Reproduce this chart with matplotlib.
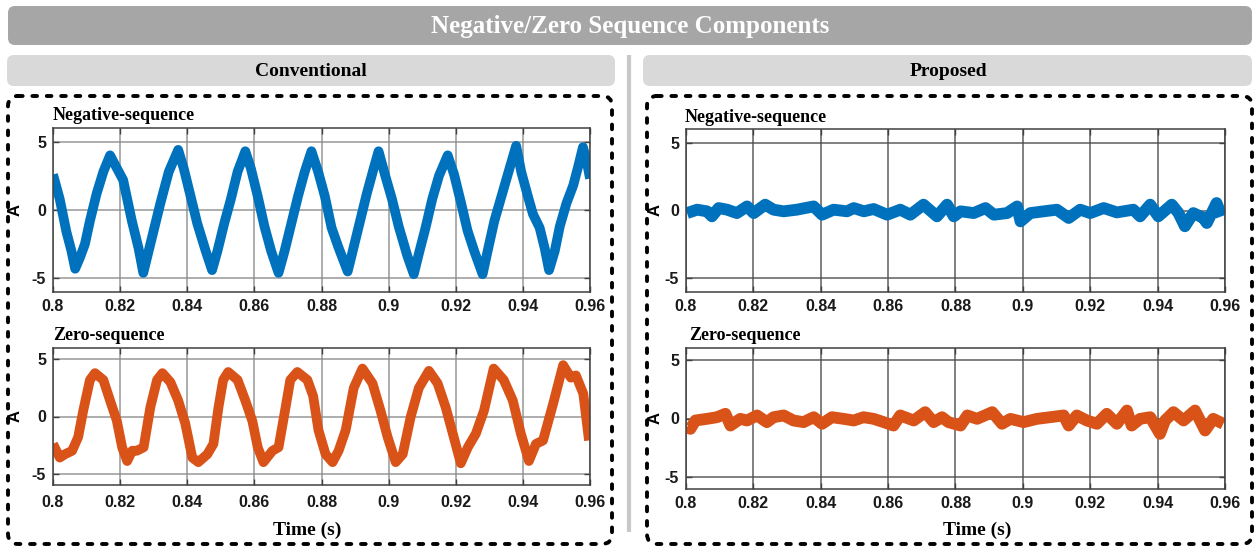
import matplotlib
matplotlib.use("Agg")
import matplotlib.pyplot as plt
from matplotlib.patches import FancyBboxPatch
import numpy as np

plt.rcParams['axes.unicode_minus'] = False

# ---------------- data ----------------
conv_neg_t = [0.8000, 0.8020, 0.8040, 0.8055, 0.8066, 0.8080, 0.8095, 0.8110, 0.8130, 0.8150,
              0.8170, 0.8185, 0.8209, 0.8215, 0.8235, 0.8255, 0.8269, 0.8285, 0.8300, 0.8320,
              0.8345, 0.8373, 0.8390, 0.8410, 0.8430, 0.8455, 0.8474, 0.8490, 0.8510, 0.8530,
              0.8550, 0.8573, 0.8590, 0.8610, 0.8630, 0.8650, 0.8672, 0.8690, 0.8710, 0.8730,
              0.8750, 0.8770, 0.8790, 0.8810, 0.8830, 0.8850, 0.8878, 0.8895, 0.8915, 0.8935,
              0.8955, 0.8970, 0.8990, 0.9010, 0.9030, 0.9055, 0.9075, 0.9090, 0.9110, 0.9130,
              0.9150, 0.9176, 0.9195, 0.9215, 0.9235, 0.9255, 0.9280, 0.9295, 0.9315, 0.9335,
              0.9355, 0.9380, 0.9395, 0.9415, 0.9430, 0.9450, 0.9465, 0.9478, 0.9495, 0.9510,
              0.9530, 0.9550, 0.9565, 0.9579, 0.9590, 0.9600]
conv_neg_v = [2.6, 0.8, -1.6, -3.0, -4.3, -3.5, -2.5, -0.8, 1.2, 2.8,
              4.0, 3.3, 2.2, 1.5, -0.8, -2.8, -4.6, -3.0, -1.5, 0.5,
              2.8, 4.4, 3.0, 1.0, -1.0, -3.0, -4.4, -3.0, -1.0, 0.8,
              2.8, 4.3, 3.0, 1.0, -1.2, -3.0, -4.6, -3.0, -1.0, 1.0,
              2.8, 4.3, 2.8, 1.0, -1.3, -2.7, -4.5, -2.8, -0.8, 1.2,
              3.0, 4.3, 2.5, 0.8, -1.2, -3.3, -4.7, -3.2, -1.3, 0.8,
              2.5, 4.0, 2.6, 0.6, -1.5, -3.0, -4.7, -3.0, -0.8, 0.9,
              2.6, 4.7, 2.8, 1.0, -0.3, -1.3, -2.8, -4.4, -3.0, -1.2,
              0.5, 1.8, 3.2, 4.6, 3.6, 2.3]

conv_zero_t = [0.8000, 0.8020, 0.8036, 0.8057, 0.8075, 0.8090, 0.8110, 0.8125, 0.8150, 0.8170,
               0.8190, 0.8206, 0.8221, 0.8236, 0.8250, 0.8270, 0.8290, 0.8310, 0.8326, 0.8350,
               0.8373, 0.8394, 0.8415, 0.8433, 0.8460, 0.8478, 0.8493, 0.8507, 0.8522, 0.8550,
               0.8573, 0.8594, 0.8610, 0.8627, 0.8654, 0.8672, 0.8693, 0.8707, 0.8728, 0.8758,
               0.8775, 0.8791, 0.8812, 0.8833, 0.8851, 0.8872, 0.8896, 0.8922, 0.8952, 0.8976,
               0.8997, 0.9021, 0.9042, 0.9066, 0.9090, 0.9120, 0.9146, 0.9170, 0.9194, 0.9215,
               0.9236, 0.9260, 0.9284, 0.9313, 0.9343, 0.9370, 0.9394, 0.9418, 0.9439, 0.9460,
               0.9490, 0.9520, 0.9543, 0.9558, 0.9580, 0.9597]
conv_zero_v = [-2.4, -3.6, -3.3, -3.0, -1.8, 0.5, 3.2, 3.8, 3.2, 1.4,
               -0.35, -2.7, -3.9, -3.0, -3.0, -2.7, 0.8, 3.2, 3.8, 3.0,
               1.4, -0.6, -3.6, -4.0, -3.3, -2.4, 0.8, 3.2, 3.9, 3.2,
               1.4, -0.4, -2.7, -4.0, -3.0, -2.7, 0.8, 3.2, 3.9, 3.2,
               1.8, -1.2, -3.3, -4.0, -3.0, -1.2, 2.5, 4.2, 2.9, 0.5,
               -1.8, -4.0, -3.3, 0.0, 2.5, 4.0, 2.9, 0.8, -1.8, -4.1,
               -2.7, -1.5, 0.5, 4.2, 3.2, 1.4, -1.5, -3.9, -2.4, -2.1,
               1.1, 4.5, 3.4, 3.6, 2.0, -2.1]

prop_neg_t = [0.8003, 0.8033, 0.8062, 0.8077, 0.8097, 0.8122, 0.8151, 0.8181, 0.8201, 0.8235,
              0.8260, 0.8290, 0.8329, 0.8379, 0.8404, 0.8438, 0.8478, 0.8498, 0.8528, 0.8557,
              0.8597, 0.8636, 0.8666, 0.8705, 0.8745, 0.8775, 0.8795, 0.8815, 0.8854, 0.8889,
              0.8914, 0.8953, 0.8983, 0.8993, 0.9022, 0.9062, 0.9101, 0.9136, 0.9170, 0.9200,
              0.9240, 0.9279, 0.9328, 0.9348, 0.9378, 0.9402, 0.9442, 0.9462, 0.9481, 0.9506,
              0.9536, 0.9546, 0.9575, 0.9590]
prop_neg_v = [-0.19, 0.06, -0.06, -0.43, 0.18, 0.06, -0.19, 0.30, -0.19, 0.43,
              0.06, -0.06, 0.06, 0.30, -0.31, 0.06, -0.06, 0.18, -0.06, 0.11,
              -0.31, 0.06, -0.31, 0.43, -0.43, 0.43, -0.43, -0.06, -0.19, 0.18,
              -0.31, -0.19, 0.30, -0.80, -0.19, -0.06, 0.06, -0.55, 0.06, -0.19,
              0.18, -0.14, 0.06, -0.43, 0.43, -0.43, 0.43, -0.19, -1.16, -0.19,
              -0.55, -0.92, 0.55, -0.43]

prop_zero_t = [0.8003, 0.8013, 0.8028, 0.8062, 0.8092, 0.8117, 0.8132, 0.8161, 0.8181, 0.8211,
               0.8240, 0.8260, 0.8290, 0.8319, 0.8349, 0.8379, 0.8404, 0.8433, 0.8468, 0.8498,
               0.8527, 0.8557, 0.8587, 0.8616, 0.8636, 0.8676, 0.8710, 0.8735, 0.8760, 0.8779,
               0.8815, 0.8835, 0.8864, 0.8909, 0.8938, 0.8963, 0.9002, 0.9042, 0.9081, 0.9121,
               0.9136, 0.9160, 0.9190, 0.9220, 0.9249, 0.9279, 0.9309, 0.9323, 0.9348, 0.9378,
               0.9407, 0.9422, 0.9447, 0.9477, 0.9511, 0.9541, 0.9565, 0.9595]
prop_zero_v = [-0.74, -0.88, -0.17, -0.03, 0.11, 0.40, -0.60, -0.03, -0.17, 0.26,
               -0.31, 0.11, 0.26, -0.17, -0.31, 0.11, -0.45, 0.11, -0.03, -0.17,
               0.11, -0.03, -0.31, -0.60, 0.26, -0.17, 0.54, -0.31, 0.11, -0.31,
               -0.60, 0.26, -0.03, 0.54, -0.45, -0.03, -0.31, -0.03, 0.11, 0.26,
               -0.60, 0.26, -0.17, -0.45, 0.40, -0.45, 0.68, -0.60, -0.03, 0.11,
               -1.31, -0.17, 0.54, -0.17, 0.68, -1.02, -0.03, -0.45]

x_ticks = [0.8, 0.82, 0.84, 0.86, 0.88, 0.9, 0.92, 0.94, 0.96]
x_ticklabels = ['0.8', '0.82', '0.84', '0.86', '0.88', '0.9', '0.92', '0.94', '0.96']
y_ticks = [-5, 0, 5]
y_ticklabels = ['-5', '0', '5']

main_title = 'Negative/Zero Sequence Components'
group_titles = ['Conventional', 'Proposed']
panel_titles = ['Negative-sequence', 'Zero-sequence']

BLUE = '#0072BD'
ORANGE = '#D95319'

# ---------------- layout ----------------
W, H = 1258, 547
fig = plt.figure(figsize=(W / 100, H / 100), dpi=100)

bg = fig.add_axes([0, 0, 1, 1], zorder=0)
bg.set_xlim(0, W)
bg.set_ylim(H, 0)
bg.axis('off')

SERIF = ['Liberation Serif', 'DejaVu Serif']
SANS = ['Liberation Sans', 'DejaVu Sans']


def rbox(x0, y0, x1, y1, fc, ec='none', lw=0, ls='-', pad=6):
    p = FancyBboxPatch((x0 + pad, y0 + pad), (x1 - x0) - 2 * pad, (y1 - y0) - 2 * pad,
                       boxstyle=f'round,pad={pad}', fc=fc, ec=ec, lw=lw, ls=ls,
                       transform=bg.transData, clip_on=False)
    bg.add_patch(p)
    return p


# title banner
rbox(8, 6, 1252, 45, '#a6a6a6', pad=7)
bg.text(630, 26, main_title, color='white', fontsize=18, fontweight='bold',
        family=SERIF, ha='center', va='center')
# group banners
rbox(7, 55, 615, 86, '#d9d9d9', pad=7)
rbox(643, 55, 1252, 86, '#d9d9d9', pad=7)
bg.text(311, 71, group_titles[0], fontsize=14, fontweight='bold', family=SERIF,
        ha='center', va='center')
bg.text(948, 71, group_titles[1], fontsize=14, fontweight='bold', family=SERIF,
        ha='center', va='center')
# separator
bg.plot([629, 629], [55, 532], color='#c8c8c8', lw=3, solid_capstyle='butt')
# dashed boxes
for (x0, x1) in [(8, 612), (647, 1252)]:
    p = rbox(x0, 96, x1, 544, 'none', ec='black', lw=2.8, ls=(0, (1.2, 2.5)), pad=10)
    p.set_capstyle('round')


def px_axes(x0, y0, x1, y1):
    return fig.add_axes([x0 / W, 1 - y1 / H, (x1 - x0) / W, (y1 - y0) / H], zorder=1)


panels = [
    # x0, y0, x1, y1, t, v, color, gridcolor, title pos, xpad, ylabel x, lw
    (53, 128, 590, 292, conv_neg_t, conv_neg_v, BLUE, '#8c8c8c', (53, 115), 5, -0.056, 7.0),
    (53, 348, 590, 485, conv_zero_t, conv_zero_v, ORANGE, '#8c8c8c', (53, 336), 7, -0.056, 7.0),
    (686, 129, 1225, 292, prop_neg_t, prop_neg_v, BLUE, '#4d4d4d', (685, 117), 5, -0.043, 8.5),
    (686, 348, 1225, 489, prop_zero_t, prop_zero_v, ORANGE, '#4d4d4d', (689, 335), 5, -0.043, 8.5),
]

for i, (x0, y0, x1, y1, t, v, col, gcol, tpos, xpad, ylx, lw) in enumerate(panels):
    ax = px_axes(x0, y0, x1, y1)
    ax.plot(t, v, color=col, lw=lw, solid_joinstyle='round', solid_capstyle='butt')
    ax.set_xlim(0.8, 0.96)
    ax.set_ylim(-6, 6)
    ax.set_xticks(x_ticks)
    ax.set_xticklabels(x_ticklabels)
    ax.set_yticks(y_ticks)
    ax.set_yticklabels(y_ticklabels)
    ax.grid(True, color=gcol, lw=1.1, alpha=0.9)
    ax.set_axisbelow(True)
    for s in ax.spines.values():
        s.set_color('#404040')
        s.set_linewidth(1.1)
    ax.tick_params(direction='in', length=4, width=1, color='#404040',
                   top=True, right=True, labelsize=11.5)
    ax.tick_params(axis='x', pad=xpad)
    ax.tick_params(axis='y', pad=5)
    for lab in ax.get_xticklabels() + ax.get_yticklabels():
        lab.set_fontweight('bold')
        lab.set_family(SANS)
        lab.set_color('#1a1a1a')
    ax.set_ylabel('A', fontsize=12, fontweight='bold', family=SANS)
    ax.yaxis.set_label_coords(ylx, 0.5)
    bg.text(tpos[0], tpos[1], panel_titles[i % 2], fontsize=13, fontweight='bold',
            family=SERIF, ha='left', va='center')

bg.text(307, 530, 'Time (s)', fontsize=14, fontweight='bold', family=SERIF,
        ha='center', va='center')
bg.text(977, 530, 'Time (s)', fontsize=14, fontweight='bold', family=SERIF,
        ha='center', va='center')

fig.savefig('out.png', dpi=100)
